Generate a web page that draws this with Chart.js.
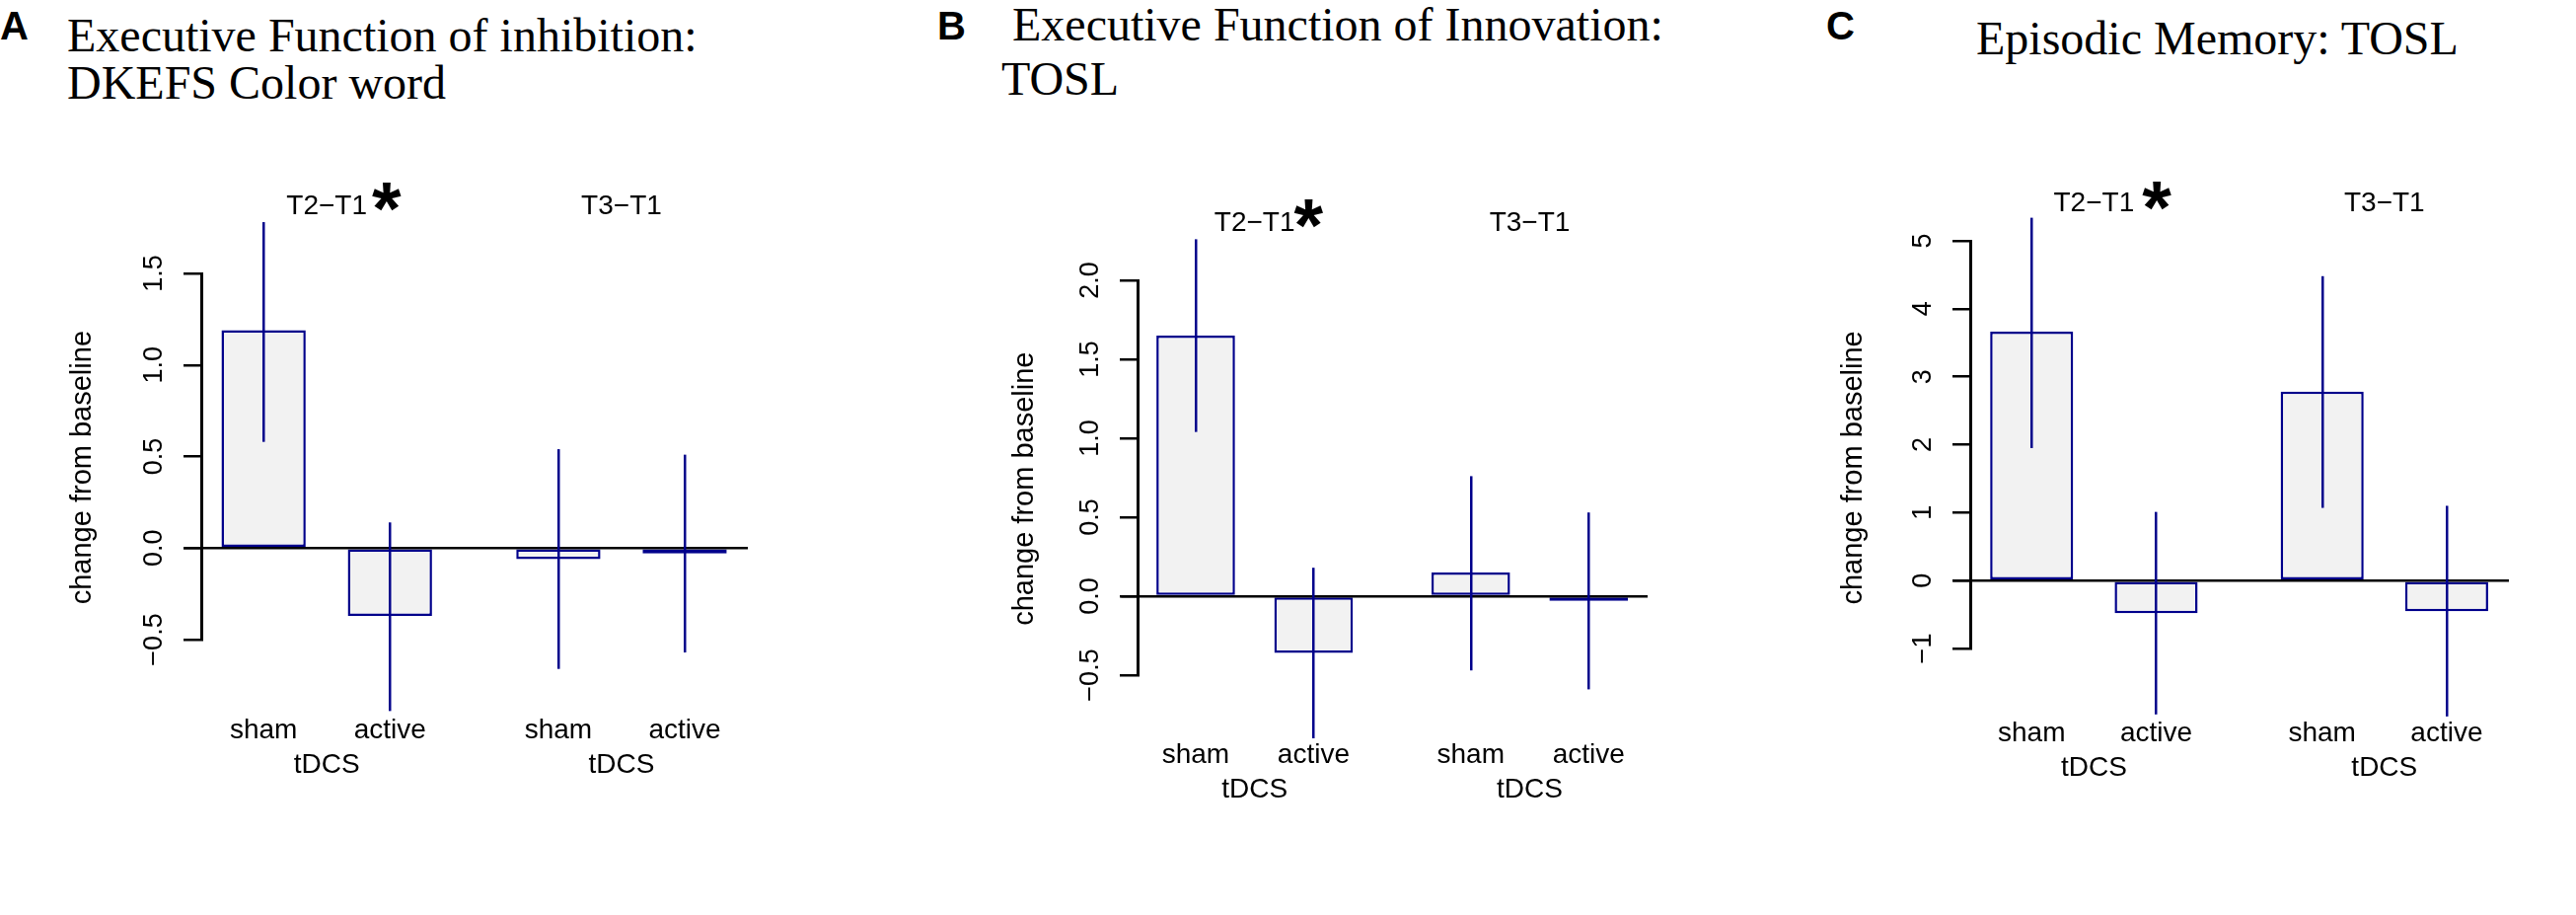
<!DOCTYPE html>
<html>
<head>
<meta charset="utf-8">
<script src="https://cdn.jsdelivr.net/npm/chart.js@4.4.1/dist/chart.umd.min.js"></script>
<style>
  body { margin: 0; background: #fff; width: 2611px; height: 927px; overflow: hidden; position: relative; }
  canvas { position: absolute; top: 0; }
  .letter { position: absolute; font: bold 40px "Liberation Sans", Arial, sans-serif; line-height: 40px; color: #000; white-space: pre; }
  .ttl { position: absolute; font: 48px "Liberation Serif", "Times New Roman", serif; line-height: 48px; color: #000; white-space: pre; }
</style>
</head>
<body>
<div class="letter" style="left:0px;top:6px">A</div>
<div class="ttl" style="left:68px;top:12px">Executive Function of inhibition:</div>
<div class="ttl" style="left:68px;top:60px">DKEFS Color word</div>

<div class="letter" style="left:950px;top:6px">B</div>
<div class="ttl" style="left:1014px;top:1px"> Executive Function of Innovation:</div>
<div class="ttl" style="left:1015px;top:56px">TOSL</div>

<div class="letter" style="left:1851px;top:6px">C</div>
<div class="ttl" style="left:2003px;top:15px">Episodic Memory: TOSL</div>

<canvas id="chartA" width="870" height="927" style="left:0px"></canvas>
<canvas id="chartB" width="870" height="927" style="left:870px"></canvas>
<canvas id="chartC" width="871" height="927" style="left:1740px"></canvas>

<script>
// bar positions (R barplot style: 0.5 space inside a group, 1 between groups)
var xPos = [1, 2.5, 4.5, 6];
var barLabels = ["sham", "active", "sham", "active"];
var groupCenters = [1.75, 5.25];
var groupLabels = ["T2\u2212T1", "T3\u2212T1"];
var groupSub = "tDCS";
var yTitle = "change from baseline";

// A: DKEFS color word
var inhibMeans = [1.19, -0.37, -0.06, -0.03];
var inhibLow   = [0.58, -0.89, -0.66, -0.57];
var inhibHigh  = [1.78, 0.14, 0.54, 0.51];
var inhibTicks = [-0.5, 0, 0.5, 1, 1.5];
var inhibTickLabels = ["\u22120.5", "0.0", "0.5", "1.0", "1.5"];

// B: TOSL innovation
var innovMeans = [1.65, -0.36, 0.15, -0.03];
var innovLow   = [1.04, -0.90, -0.47, -0.59];
var innovHigh  = [2.26, 0.18, 0.76, 0.53];
var innovTicks = [-0.5, 0, 0.5, 1, 1.5, 2];
var innovTickLabels = ["\u22120.5", "0.0", "0.5", "1.0", "1.5", "2.0"];

// C: TOSL episodic memory
var memMeans = [3.665, -0.48, 2.78, -0.45];
var memLow   = [1.95, -1.97, 1.07, -2.0];
var memHigh  = [5.34, 1.01, 4.48, 1.10];
var memTicks = [-1, 0, 1, 2, 3, 4, 5];
var memTickLabels = ["\u22121", "0", "1", "2", "3", "4", "5"];

var navy = "#00008b";
var sansFont = '"Liberation Sans", Arial, Helvetica, sans-serif';

var makeChart = function(id, p) {
  var decor = {
    id: "decor" + id,
    afterDatasetsDraw: function(chart) {
      var ctx = chart.ctx;
      var xs = chart.scales.x, ys = chart.scales.y;
      ctx.save();
      // zero line
      var y0 = Math.round(ys.getPixelForValue(0));
      ctx.fillStyle = "#000";
      ctx.fillRect(xs.getPixelForValue(0.05), y0 - 1, xs.getPixelForValue(6.75) - xs.getPixelForValue(0.05), 2.5);
      // error bars
      ctx.fillStyle = navy;
      for (var i = 0; i < xPos.length; i++) {
        var x = Math.round(xs.getPixelForValue(xPos[i]));
        var yh = ys.getPixelForValue(p.high[i]);
        var yl = ys.getPixelForValue(p.low[i]);
        ctx.fillRect(x - 1, yh, 2.5, yl - yh);
      }
      ctx.restore();
    },
    afterDraw: function(chart) {
      var ctx = chart.ctx;
      var xs = chart.scales.x, ys = chart.scales.y;
      var ax = Math.round(chart.chartArea.left);
      // plot region (wider than the axis line, like R's usr box)
      var top = ys.getPixelForValue(p.yMax);
      var bottom = ys.getPixelForValue(p.yMin);
      ctx.save();
      ctx.fillStyle = "#000";
      // tick labels, parallel to the axis
      ctx.font = "27px " + sansFont;
      ctx.textAlign = "center";
      ctx.textBaseline = "alphabetic";
      for (var t = 0; t < p.ticks.length; t++) {
        ctx.save();
        ctx.translate(ax - 40, ys.getPixelForValue(p.ticks[t]));
        ctx.rotate(-Math.PI / 2);
        ctx.fillText(p.tickLabels[t], 0, 0);
        ctx.restore();
      }
      // y title
      ctx.save();
      ctx.font = "29px " + sansFont;
      ctx.translate(ax - p.titleOff, (top + bottom) / 2);
      ctx.rotate(-Math.PI / 2);
      ctx.fillText(yTitle, 0, 0);
      ctx.restore();
      // group labels
      ctx.font = "28px " + sansFont;
      for (var g = 0; g < groupCenters.length; g++) {
        ctx.textAlign = "center";
        var gx = xs.getPixelForValue(groupCenters[g]);
        ctx.fillText(groupLabels[g], gx, top + 10);
        if (g === 0) {
          var w = ctx.measureText(groupLabels[g]).width;
          ctx.save();
          ctx.font = "bold 76px " + sansFont;
          ctx.textAlign = "left";
          ctx.fillText("*", gx + w / 2 + p.starDx - 2, top + p.starDy + 44);
          ctx.restore();
        }
        ctx.fillText(groupSub, gx, bottom + 42);
      }
      for (var b = 0; b < xPos.length; b++) {
        ctx.textAlign = "center";
        ctx.fillText(barLabels[b], xs.getPixelForValue(xPos[b]), bottom + 7);
      }
      ctx.restore();
    }
  };

  return new Chart(document.getElementById(id), {
    type: "bar",
    data: {
      datasets: [{
        data: xPos.map(function(x, i) { return { x: x, y: p.means[i] }; }),
        backgroundColor: "#f2f2f2",
        borderColor: navy,
        borderWidth: 2.5,
        borderSkipped: false,
        barPercentage: 2 / 3,
        categoryPercentage: 1,
        clip: false
      }]
    },
    options: {
      responsive: false,
      animation: false,
      layout: { padding: p.pad },
      plugins: { legend: { display: false }, tooltip: { enabled: false }, title: { display: false } },
      scales: {
        x: {
          type: "linear",
          display: false,
          offset: false,
          grace: 0,
          min: 0.26,
          max: 6.75,
          afterBuildTicks: function(s) { s.ticks = xPos.map(function(v) { return { value: v }; }); }
        },
        y: {
          type: "linear",
          // axis line runs from the first to the last tick, as in R
          min: p.ticks[0],
          max: p.ticks[p.ticks.length - 1],
          afterBuildTicks: function(s) { s.ticks = p.ticks.map(function(v) { return { value: v }; }); },
          afterFit: function(s) { s.width = 0; },
          ticks: { display: false },
          border: { display: true, color: "#000", width: 3 },
          grid: { drawOnChartArea: false, drawTicks: true, tickLength: 18, color: "#000", lineWidth: 2.5 }
        }
      }
    },
    plugins: [decor]
  });
};

makeChart("chartA", {
  means: inhibMeans, low: inhibLow, high: inhibHigh, ticks: inhibTicks, tickLabels: inhibTickLabels,
  yMin: -1.0, yMax: 1.88, pad: { left: 204, right: 112, top: 277, bottom: 279 },
  titleOff: 112, starDx: 7, starDy: -14
});
makeChart("chartB", {
  means: innovMeans, low: innovLow, high: innovHigh, ticks: innovTicks, tickLabels: innovTickLabels,
  yMin: -1.015, yMax: 2.375, pad: { left: 283, right: 70, top: 284, bottom: 243 },
  titleOff: 106, starDx: 1, starDy: -14
});
makeChart("chartC", {
  means: memMeans, low: memLow, high: memHigh, ticks: memTicks, tickLabels: memTickLabels,
  yMin: -2.26, yMax: 5.58, pad: { left: 257, right: 68, top: 244, bottom: 270 },
  titleOff: 110, starDx: 10, starDy: -12
});
</script>
</body>
</html>
